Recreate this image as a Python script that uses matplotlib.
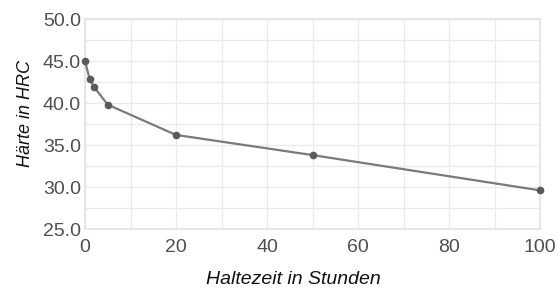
import matplotlib.pyplot as plt
from matplotlib.ticker import MultipleLocator

# Haltezeit (h) vs. Härte (HRC)
stunden = [0, 1, 2, 5, 20, 50, 100]
haerte = [45.0, 42.9, 41.9, 39.8, 36.2, 33.8, 29.6]

x_ticks = [0, 20, 40, 60, 80, 100]
y_ticks = [25.0, 30.0, 35.0, 40.0, 45.0, 50.0]

plt.rcParams['font.family'] = ['Liberation Sans', 'DejaVu Sans']

fig = plt.figure(figsize=(5.59, 2.90), dpi=100)
ax = fig.add_axes([85 / 559, 1 - 229 / 290, 455 / 559, 210 / 290])

ax.plot(stunden, haerte, color='#7a7a7a', linewidth=1.6, marker='o',
        markersize=4.5, markerfacecolor='#5a5a5a', markeredgecolor='#5a5a5a',
        zorder=3, clip_on=False)

ax.set_xlim(0, 100)
ax.set_ylim(25, 50)
ax.set_xticks(x_ticks)
ax.set_yticks(y_ticks)
ax.set_yticklabels([f'{v:.1f}' for v in y_ticks])
ax.xaxis.set_minor_locator(MultipleLocator(10))
ax.yaxis.set_minor_locator(MultipleLocator(2.5))

ax.grid(True, which='both', color='#ebebeb', linewidth=1.0)
ax.set_axisbelow(True)
for s in ax.spines.values():
    s.set_color('#e3e3e3')
    s.set_linewidth(1.2)

ax.tick_params(which='both', length=0, labelsize=14, labelcolor='#4f4f4f')
ax.tick_params(axis='x', pad=7)
ax.tick_params(axis='y', pad=3)

ax.set_xlabel('Haltezeit in Stunden', fontsize=14, style='italic',
              color='#111111')
ax.set_ylabel('Härte in HRC', fontsize=13, style='italic',
              color='#111111')
ax.xaxis.set_label_coords(0.458, -0.2)
ax.yaxis.set_label_coords(-0.112, 0.55)

fig.savefig('out.png', dpi=100)
